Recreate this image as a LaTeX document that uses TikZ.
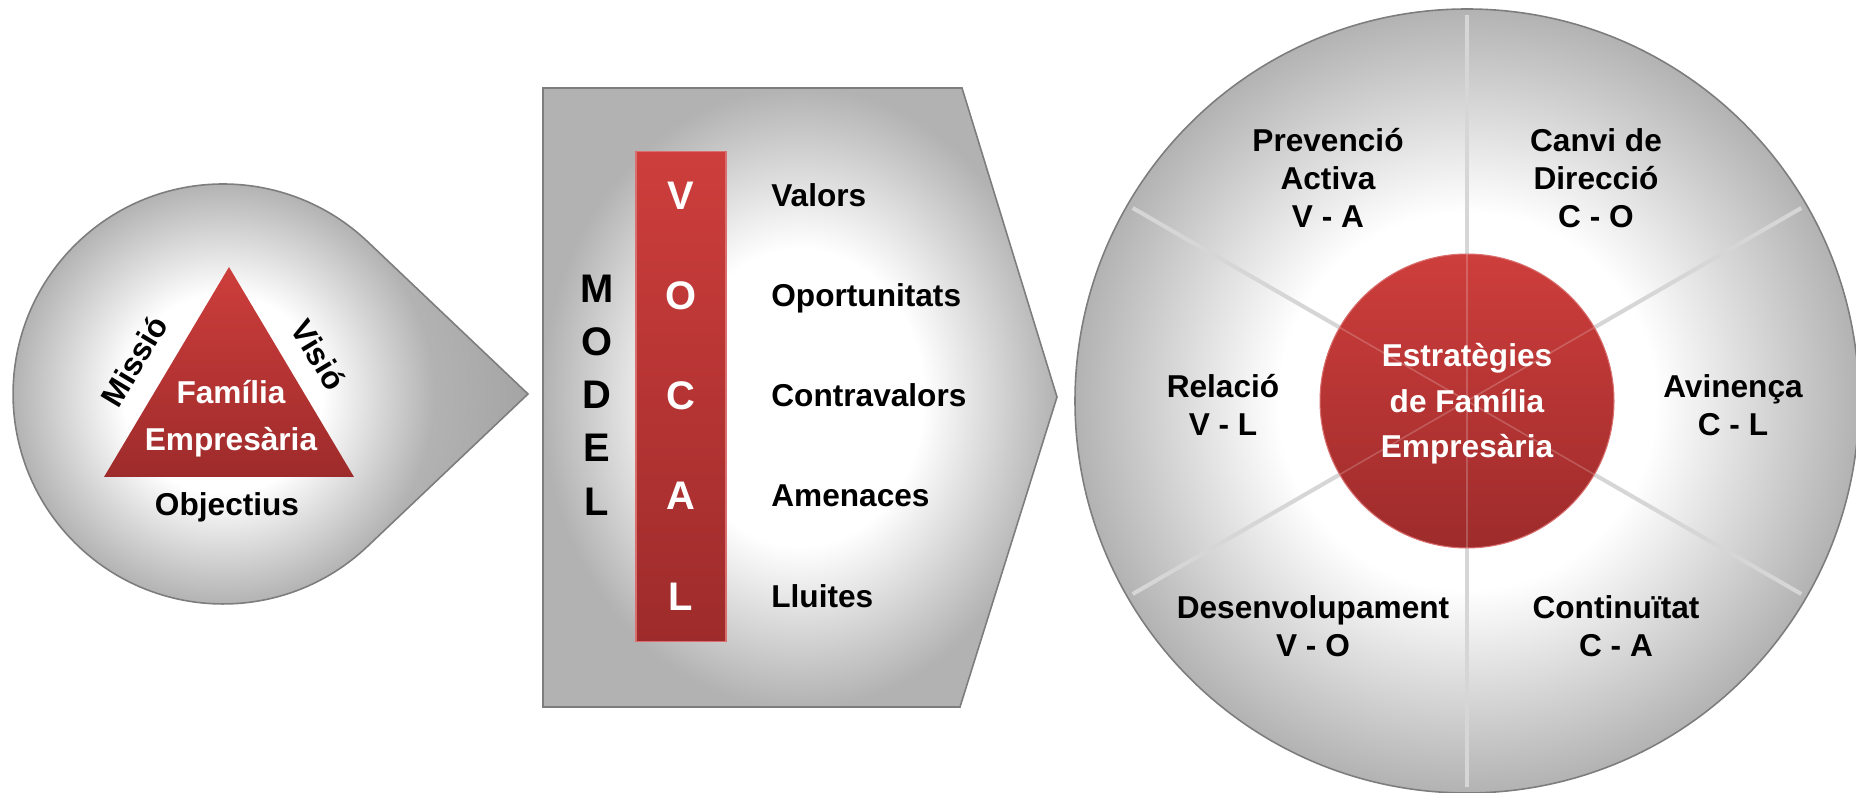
\documentclass[tikz,border=0pt]{standalone}
\usepackage{fontspec}
\setmainfont{Liberation Sans}
\usetikzlibrary{positioning, calc}
\definecolor{myred}{RGB}{205, 62, 60}
\definecolor{mydarkred}{RGB}{158, 43, 43}
\definecolor{myrim}{RGB}{125, 125, 125}
\definecolor{myspoke}{RGB}{214, 214, 214}
\pgfdeclareradialshading{glossy}{\pgfpoint{0bp}{0bp}}{color(0bp)=(white); color(12bp)=(white); color(25bp)=(black!30); color(50bp)=(black!30)}
\pgfdeclareradialshading{dropglossy}{\pgfpoint{0bp}{0bp}}{color(0bp)=(white); color(8bp)=(white); color(17bp)=(black!30); color(25bp)=(black!36); color(50bp)=(black!36)}
\tikzset{
  greybody/.style={shade, shading=glossy},
  rim/.style={draw=myrim, line width=0.9pt},
  redbody/.style={top color=myred, bottom color=mydarkred},
  redrim/.style={draw=myred!75!white, line width=0.6pt},
  spoke/.style={draw=myspoke, line width=2.3pt},
  innerspoke/.style={draw=white, draw opacity=0.2, line width=0.9pt},
  darktext/.style={font=\fontsize{18}{21.5}\selectfont\bfseries, align=center, inner sep=0pt},
  lighttext/.style={darktext, text=white},
  bigletter/.style={font=\fontsize{22.7}{30.3}\selectfont\bfseries, align=center, inner sep=0pt}
}
\begin{document}
\begin{tikzpicture}[x=0.02cm, y=-0.02cm]
  \useasboundingbox (0,0) rectangle (1856,793);

  % teardrop with the triangle
  \coordinate (dropc) at (223,394);
  \coordinate (droptip) at (528,394);
  \begin{scope}
    \clip (droptip) -- (367.6,546.3) arc[start angle=46.5, end angle=313.5, radius=210] -- cycle;
    \shade[shading=dropglossy] (dropc) circle (310);
  \end{scope}
  \draw[rim] (droptip) -- (367.6,546.3) arc[start angle=46.5, end angle=313.5, radius=210] -- cycle;
  \coordinate (triapex) at (229,267);
  \coordinate (trileft) at (104,477);
  \coordinate (triright) at (354,477);
  \path[redbody] (triapex) -- (triright) -- (trileft) -- cycle;
  \node[lighttext, font=\fontsize{18}{26.6}\selectfont\bfseries] (famemp) at (231,419) {Família\\Empresària};
  \node[darktext] (objectius) at (227,507) {Objectius};
  \node[darktext, rotate=59] (missio) at (134,361) {Missió};
  \node[darktext, rotate=-59] (visio) at (319,355) {Visió};

  % VOCAL model
  \path[greybody, rim] (543,88) -- (962,88) -- (1057,397) -- (960,707) -- (543,707) -- cycle;
  \node[redbody, redrim, minimum width=1.8cm, minimum height=9.82cm, inner sep=0pt] (vocalbar) at (681,396.5) {};
  \node[bigletter] (model) at (597,395) {M\\O\\D\\E\\L};
  \node[bigletter, text=white, anchor=base] (vocv) at (681,210) {V};
  \node[bigletter, text=white, anchor=base] (voco) at (681,310) {O};
  \node[bigletter, text=white, anchor=base] (vocc) at (681,410) {C};
  \node[bigletter, text=white, anchor=base] (voca) at (681,510) {A};
  \node[bigletter, text=white, anchor=base] (vocl) at (681,610) {L};
  \node[darktext, anchor=base west] (valors) at (771,207) {Valors};
  \node[darktext, anchor=base west] (oport) at (771,307) {Oportunitats};
  \node[darktext, anchor=base west] (contra) at (771,407) {Contravalors};
  \node[darktext, anchor=base west] (amen) at (771,507) {Amenaces};
  \node[darktext, anchor=base west] (lluites) at (771,607) {Lluites};

  % strategy wheel
  \coordinate (bigc) at (1467,401);
  \shade[greybody] (bigc) circle (392);
  \draw[spoke] ($(bigc)+(90:147)$) -- ($(bigc)+(90:386)$);
  \draw[spoke] ($(bigc)+(30:147)$) -- ($(bigc)+(30:386)$);
  \draw[spoke] ($(bigc)+(-30:147)$) -- ($(bigc)+(-30:386)$);
  \draw[spoke] ($(bigc)+(-90:147)$) -- ($(bigc)+(-90:386)$);
  \draw[spoke] ($(bigc)+(-150:147)$) -- ($(bigc)+(-150:386)$);
  \draw[spoke] ($(bigc)+(150:147)$) -- ($(bigc)+(150:386)$);
  \draw[rim] (bigc) circle (392);
  \node[circle, redbody, redrim, minimum size=5.88cm, inner sep=0pt] (core) at (bigc) {};
  \draw[innerspoke] ($(bigc)+(90:147)$) -- ($(bigc)+(-90:147)$);
  \draw[innerspoke] ($(bigc)+(30:147)$) -- ($(bigc)+(-150:147)$);
  \draw[innerspoke] ($(bigc)+(-30:147)$) -- ($(bigc)+(150:147)$);
  \node[lighttext, font=\fontsize{18}{26}\selectfont\bfseries] (strategy) at (1467,404) {Estratègies\\de Família\\Empresària};
  \node[darktext] (prevencio) at (1328,178) {Prevenció\\Activa\\V - A};
  \node[darktext] (canvi) at (1596,178) {Canvi de\\Direcció\\C - O};
  \node[darktext] (relacio) at (1223,405) {Relació\\V - L};
  \node[darktext] (avinenca) at (1733,405) {Avinença\\C - L};
  \node[darktext] (desenv) at (1313,626) {Desenvolupament\\V - O};
  \node[darktext] (continuitat) at (1616,626) {Continuïtat\\C - A};
\end{tikzpicture}
\end{document}
